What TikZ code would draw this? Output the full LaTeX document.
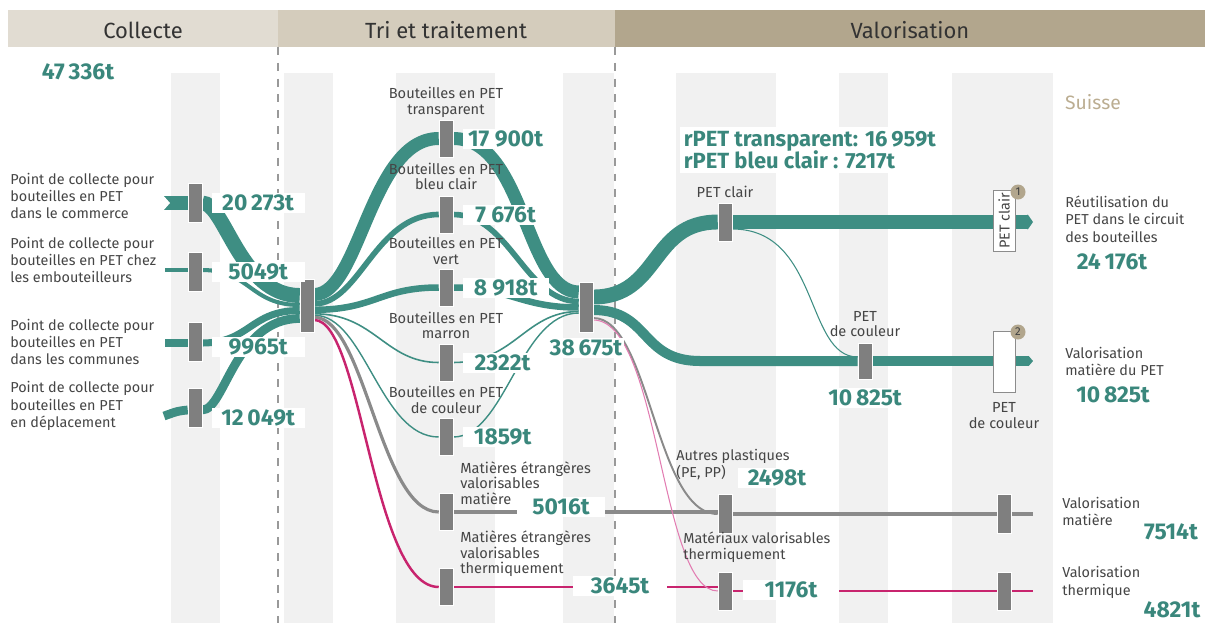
\documentclass[tikz,border=0pt]{standalone}
\usepackage{fontspec}
\setmainfont{Fira Sans}
\usetikzlibrary{arrows.meta}
\usetikzlibrary{positioning}
\definecolor{tealflow}{HTML}{3E8E83}
\definecolor{tealtext}{HTML}{3A877C}
\definecolor{bargrey}{HTML}{7F7F7F}
\definecolor{greyflow}{HTML}{8A8A8A}
\definecolor{magflow}{HTML}{C8246E}
\definecolor{pinkflow}{HTML}{E27DB2}
\definecolor{stripe}{HTML}{F1F1F1}
\definecolor{headA}{HTML}{E1DCD2}
\definecolor{headB}{HTML}{D4CCBC}
\definecolor{headC}{HTML}{B2A68D}
\definecolor{labgrey}{HTML}{454545}
\definecolor{suisse}{HTML}{BBAD91}
\pgfdeclarelayer{bg}
\pgfdeclarelayer{flows}
\pgfsetlayers{bg,flows,main}
\tikzset{%
  mybar/.style={rectangle, fill=bargrey, draw=white, line width=0.3pt, minimum width=0.28cm, minimum height=0.78cm, inner sep=0pt},
  myflow/.style={draw=tealflow, line cap=butt},
  mygrey/.style={draw=greyflow, line cap=butt},
  mymag/.style={draw=magflow, line cap=butt},
  myval/.style={fill=white, text=tealtext, font=\fontsize{13}{14}\selectfont\bfseries, inner sep=1pt, minimum height=0.4cm},
  mylabel/.style={text=labgrey, font=\fontsize{8.2}{9.9}\selectfont, align=left, inner sep=0pt},
  mylabelc/.style={text=labgrey, font=\fontsize{8.3}{8.8}\selectfont, align=center, inner sep=0pt},
  myhead/.style={text=black!80, font=\fontsize{12.5}{14}\selectfont},
  mybox/.style={rectangle, fill=white, draw=black!45, line width=0.4pt, minimum width=1.22cm, minimum height=0.44cm, inner sep=0pt},
  mybadge/.style={circle, fill=headC, text=black!75, font=\fontsize{6.5}{7}\selectfont, minimum size=0.3cm, inner sep=0pt}
}

\begin{document}
\begin{tikzpicture}[x=0.02cm, y=-0.02cm]
  \useasboundingbox (0,0) rectangle (1205,623);
  % header and columns
  \begin{pgfonlayer}{bg}
    \fill[headA] (8,10) rectangle (278,47);
    \fill[headB] (278,10) rectangle (615,47);
    \fill[headC] (615,10) rectangle (1205,47);
    \foreach \xa/\xb in {171/220, 284/333, 396/495, 563/614, 676/776, 839/888, 952/1053}
      \fill[stripe] (\xa,73) rectangle (\xb,623);
    \foreach \xd in {278, 615}
      \draw[black!40, line width=0.6pt, dash pattern=on 4.5pt off 4.5pt] (\xd,47) -- (\xd,623);
  \end{pgfonlayer}
  \node[myhead] (hcol) at (143,30) {Collecte};
  \node[myhead] (htri) at (446,30) {Tri et traitement};
  \node[myhead] (hval) at (910,30) {Valorisation};
  \node[text=suisse, font=\fontsize{11}{12}\selectfont] (suisse) at (1093,102) {Suisse};

  % bars
  \node[mybar] (c1) at (195,203) {};
  \node[mybar] (c2) at (195,272) {};
  \node[mybar] (c3) at (195,342) {};
  \node[mybar] (c4) at (195,408) {};
  \node[mybar, minimum height=1.06cm] (hubA) at (307,305.5) {};
  \node[mybar, minimum height=0.74cm] (trans) at (446,138.5) {};
  \node[mybar, minimum height=0.74cm] (bleu) at (446,214.5) {};
  \node[mybar, minimum height=0.74cm] (vert) at (446,287.5) {};
  \node[mybar, minimum height=0.74cm] (marron) at (446,362.5) {};
  \node[mybar, minimum height=0.74cm] (coul) at (446,437) {};
  \node[mybar, minimum height=0.74cm] (matA) at (446,512) {};
  \node[mybar, minimum height=0.74cm] (thA) at (446,587) {};
  \node[mybar, minimum height=1.0cm] (hubB) at (586,307) {};
  \node[mybar, minimum height=0.76cm] (clair) at (725,222) {};
  \node[mybar, minimum height=0.72cm] (pcoul) at (865,361) {};
  \node[mybar, minimum height=0.78cm] (autres) at (725,514) {};
  \node[mybar, minimum height=0.76cm] (mater) at (725,591) {};
  \node[mybar, minimum height=0.78cm] (finM) at (1004,514) {};
  \node[mybar, minimum height=0.76cm] (finT) at (1004,591) {};
  \coordinate (s1) at (163,203);
  \coordinate (s2) at (165,270);
  \coordinate (s3) at (165,343);
  \coordinate (s4) at (164,416);
  \coordinate (endC) at (1033,222);
  \coordinate (endP) at (1033,361);
  \coordinate (endM) at (1033,514);
  \coordinate (endT) at (1033,591);

  % flows
  \begin{pgfonlayer}{flows}
    \draw[myflow, line width=8.5pt] (s1) -- (c1.west);
    \fill[white] (162,194) -- (170,203) -- (162,212) -- cycle;
    \draw[myflow, line width=2.3pt] (s2) -- (c2.west |- 0,270);
    \draw[myflow, line width=4pt] (s3) -- (c3.west |- 0,343);
    \draw[myflow, line width=5pt] (s4) .. controls (178,411) .. (c4.west |- 0,410);
    \draw[myflow, line width=8.5pt] (c1.east) .. controls (225,203) and (240,295.5) .. (hubA.west |- 0,295.5);
    \draw[myflow, line width=2.3pt] (c2.east |- 0,270) .. controls (250,270) and (250,305) .. (hubA.west |- 0,305);
    \draw[myflow, line width=4pt] (c3.east |- 0,343) .. controls (250,343) and (250,310.5) .. (hubA.west |- 0,310.5);
    \draw[myflow, line width=5pt] (c4.east |- 0,410) .. controls (225,410) and (235,318.5) .. (hubA.west |- 0,318.5);
    % to the sorted bottles
    \draw[myflow, line width=7.4pt] (hubA.east |- 0,294.5) .. controls (360,294.5) and (370,138.5) .. (trans.west);
    \draw[myflow, line width=3.2pt] (hubA.east |- 0,303.8) .. controls (360,303.8) and (375,214.5) .. (bleu.west);
    \draw[myflow, line width=3.7pt] (hubA.east |- 0,309.8) .. controls (375,309.8) and (380,287.5) .. (vert.west);
    \draw[myflow, line width=0.9pt] (hubA.east |- 0,313.8) .. controls (375,313.8) and (385,362.5) .. (marron.west);
    \draw[myflow, line width=0.8pt] (hubA.east |- 0,315.2) .. controls (365,315.2) and (380,437) .. (coul.west);
    \draw[mygrey, line width=1.8pt] (hubA.east |- 0,317.3) .. controls (365,317.3) and (380,512) .. (matA.west);
    \draw[mymag, line width=1.4pt] (hubA.east |- 0,320) .. controls (362,320) and (372,587) .. (thA.west);
    % to the second hub
    \draw[myflow, line width=7.4pt] (trans.east) .. controls (525,138.5) and (525,292) .. (hubB.west |- 0,292);
    \draw[myflow, line width=3.2pt] (bleu.east) .. controls (510,214.5) and (525,301.5) .. (hubB.west |- 0,301.5);
    \draw[myflow, line width=3.7pt] (vert.east) .. controls (510,287.5) and (520,307.5) .. (hubB.west |- 0,307.5);
    \draw[myflow, line width=0.9pt] (marron.east) .. controls (515,362.5) and (525,311.5) .. (hubB.west |- 0,311.5);
    \draw[myflow, line width=0.8pt] (coul.east) .. controls (505,437) and (520,313) .. (hubB.west |- 0,313);
    \draw[mygrey, line width=1.8pt] (matA.east) -- (autres.west |- 0,512);
    \draw[mymag, line width=1.2pt] (thA.east) -- (mater.west |- 0,587);
    % valorisation
    \draw[myflow, line width=8.5pt] (hubB.east |- 0,297) .. controls (660,297) and (650,222) .. (clair.west);
    \draw[myflow, line width=5.7pt] (hubB.east |- 0,310) .. controls (650,310) and (640,361) .. (700,361) -- (pcoul.west);
    \draw[mygrey, line width=1.1pt] (hubB.east |- 0,318) .. controls (650,318) and (655,514) .. (autres.west);
    \draw[draw=pinkflow, line width=0.6pt] (hubB.east |- 0,320) .. controls (660,320) and (660,591) .. (mater.west);
    \draw[myflow, line width=0.6pt] (clair.east |- 0,229) .. controls (820,229) and (805,357) .. (pcoul.west |- 0,357);
    \draw[myflow, line width=8.5pt, -{Triangle[length=3pt, width=8.5pt]}] (clair.east) -- (endC);
    \draw[myflow, line width=5.7pt, -{Triangle[length=2.5pt, width=5.7pt]}] (pcoul.east) -- (endP);
    \draw[mygrey, line width=2.2pt] (autres.east) -- (finM.west);
    \draw[mygrey, line width=2.2pt] (finM.east) -- (endM);
    \draw[mymag, line width=1.4pt] (mater.east) -- (finT.west);
    \draw[mymag, line width=1.4pt] (finT.east) -- (endT);
  \end{pgfonlayer}

  % end boxes
  \node[mybox, rotate=90, font=\fontsize{8.2}{9}\selectfont, text=labgrey] (box1) at (1004,221) {PET clair};
  \node[mybox, minimum width=0.44cm, minimum height=1.22cm] (box2) at (1004,361.5) {};
  \node[mybadge] (b1) at (1018,192) {1};
  \node[mybadge] (b2) at (1018,332) {2};
  \node[mylabelc, below=0.2cm of box2] (lbox2) {PET\\de couleur};

  % values
  \node[myval] (vtot) at (78,72) {47\,336t};
  \node[myval, right=0.18cm of c1, minimum width=1.86cm] (vc1) {20\,273t};
  \node[myval, right=0.18cm of c2, minimum width=1.86cm] (vc2) {5049t};
  \node[myval, right=0.18cm of c3, minimum width=1.86cm, yshift=-0.1cm] (vc3) {9965t};
  \node[myval, right=0.18cm of c4, minimum width=1.86cm, yshift=-0.2cm] (vc4) {12\,049t};
  \node[myval, right=0.18cm of trans, minimum width=1.72cm] (vtrans) {17 900t};
  \node[myval, right=0.18cm of bleu, minimum width=1.72cm] (vbleu) {7 676t};
  \node[myval, right=0.18cm of vert, minimum width=1.72cm] (vvert) {8 918t};
  \node[myval, right=0.18cm of marron, minimum width=1.6cm] (vmarron) {2322t};
  \node[myval, right=0.18cm of coul, minimum width=1.6cm] (vcoul) {1859t};
  \node[myval, minimum width=1.76cm] (vmatA) at (561,507) {5016t};
  \node[myval, minimum width=1.88cm] (vthA) at (620,586) {3645t};
  \node[myval, below=0.1cm of hubB] (vhubB) {38\,675t};
  \node[myval, align=left, anchor=west, inner sep=2pt, font=\fontsize{12.5}{13}\selectfont\bfseries] (vrpet) at (680,150) {rPET transparent: 16\,959t\\rPET bleu clair : 7217t};
  \node[myval, below=0.16cm of pcoul] (vpcoul) {10\,825t};
  \node[myval, minimum width=1.56cm] (vautres) at (777,478) {2498t};
  \node[myval, minimum width=1.92cm] (vmater) at (791,590) {1176t};
  \node[myval] (vr1) at (1112,262) {24\,176t};
  \node[myval] (vr2) at (1113,395) {10\,825t};
  \node[myval] (vr3) at (1171,532) {7514t};
  \node[myval] (vr4) at (1172,610) {4821t};

  % labels
  \node[mylabel, anchor=west] (l1) at (10,196) {Point de collecte pour\\bouteilles en PET\\dans le commerce};
  \node[mylabel, anchor=west] (l2) at (10,260) {Point de collecte pour\\bouteilles en PET chez\\les embouteilleurs};
  \node[mylabel, anchor=west] (l3) at (10,342) {Point de collecte pour\\bouteilles en PET\\dans les communes};
  \node[mylabel, anchor=west] (l4) at (10,406) {Point de collecte pour\\bouteilles en PET\\en déplacement};
  \node[mylabelc] (ltrans) at (446,102.5) {Bouteilles en PET\\transparent};
  \node[mylabelc] (lbleu) at (446,176.5) {Bouteilles en PET\\bleu clair};
  \node[mylabelc] (lvert) at (446,251) {Bouteilles en PET\\vert};
  \node[mylabelc] (lmarron) at (446,325.5) {Bouteilles en PET\\marron};
  \node[mylabelc] (lcoul) at (446,400) {Bouteilles en PET\\de couleur};
  \node[mylabel, font=\fontsize{8.3}{8.8}\selectfont, anchor=west] (lmatA) at (460,483) {Matières étrangères\\valorisables\\matière};
  \node[mylabel, font=\fontsize{8.3}{8.8}\selectfont, anchor=west] (lthA) at (460,554) {Matières étrangères\\valorisables\\thermiquement};
  \node[mylabelc, above=0.1cm of clair] (lclair) {PET clair};
  \node[mylabelc] (lpcoul) at (865,324) {PET\\de couleur};
  \node[mylabel, font=\fontsize{8.2}{9.6}\selectfont, anchor=west] (lautres) at (676,464.5) {Autres plastiques\\(PE, PP)};
  \node[mylabel, font=\fontsize{8.2}{9}\selectfont, anchor=west] (lmater) at (683,547) {Matériaux valorisables\\thermiquement};
  \node[mylabel, anchor=west] (r1) at (1065,219) {Réutilisation du\\PET dans le circuit\\des bouteilles};
  \node[mylabel, anchor=west] (r2) at (1065,361.5) {Valorisation\\matière du PET};
  \node[mylabel, anchor=west] (r3) at (1062,511.5) {Valorisation\\matière};
  \node[mylabel, anchor=west] (r4) at (1062,582.5) {Valorisation\\thermique};
\end{tikzpicture}
\end{document}
